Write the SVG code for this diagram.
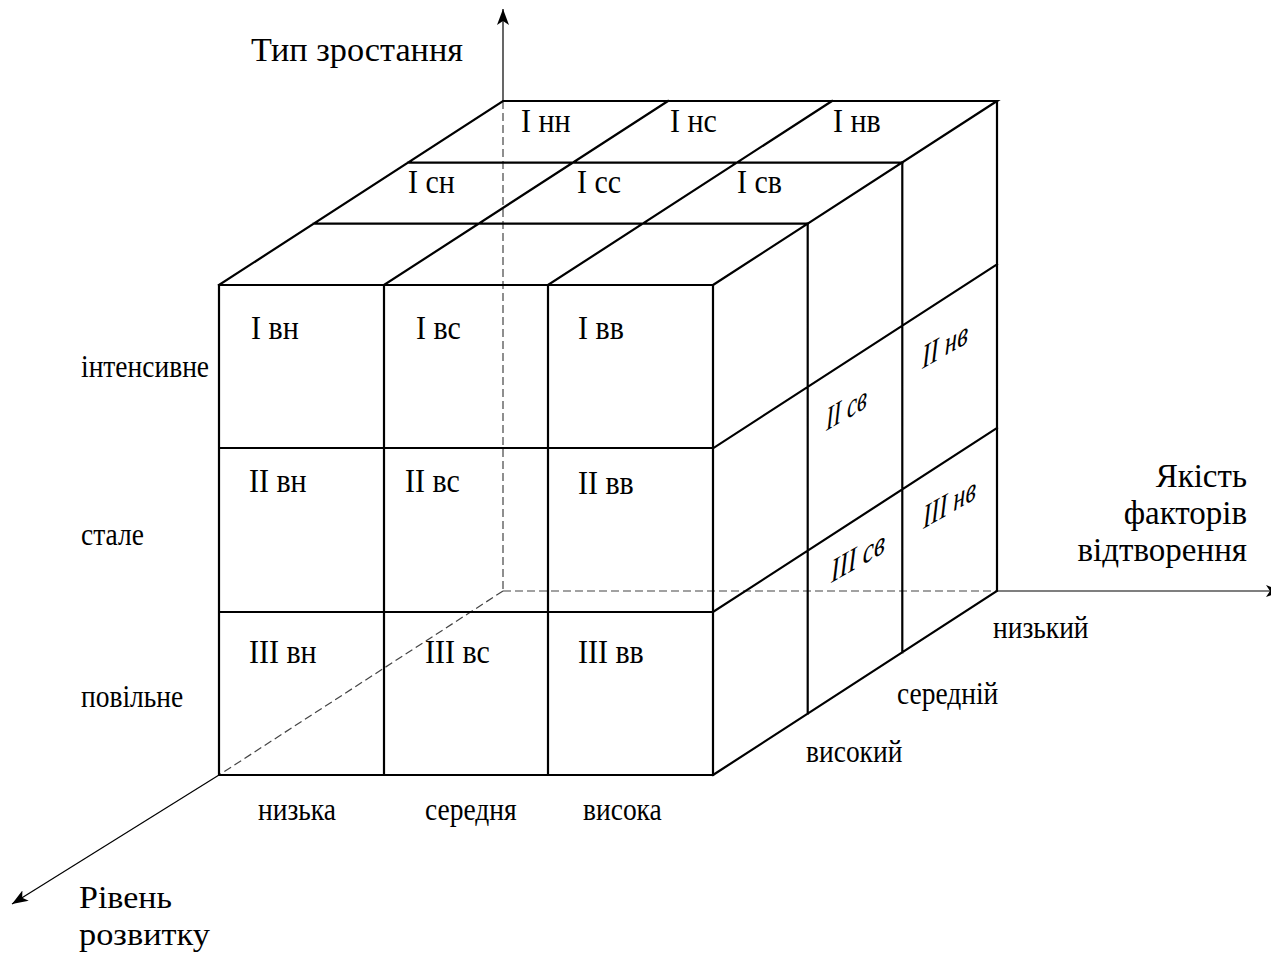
<svg xmlns="http://www.w3.org/2000/svg" width="1271" height="954" viewBox="0 0 1271 954">
<style>
.cube{stroke:#000;stroke-width:2.2;fill:none;stroke-linecap:square}
.hid{stroke:#444;stroke-width:1.2;fill:none;stroke-dasharray:8 4}
.ax{stroke:#000;stroke-width:1.2;fill:none}
.t{font-family:"Liberation Serif","Times New Roman",serif;fill:#000}
.cell{font-size:30px}
.cat{font-size:27.5px}
.ttl{font-size:33px}
.it{font-size:33px;font-style:italic}
</style>
<defs>
<marker id="arr" viewBox="0 0 16 12" refX="16" refY="6" markerWidth="16" markerHeight="12" markerUnits="userSpaceOnUse" orient="auto">
<path d="M0,0 L16,6 L0,12 L4,6 Z" fill="#000"/>
</marker>
</defs>
<rect width="1271" height="954" fill="#fff"/>
<g id="connectors">
<line class="hid" x1="503" y1="101" x2="503" y2="591"/>
<line class="hid" x1="503" y1="591" x2="997" y2="591"/>
<line class="hid" x1="503" y1="591" x2="219" y2="775"/>
<line class="ax" x1="503" y1="101" x2="503" y2="9" marker-end="url(#arr)"/>
<line class="ax" x1="997" y1="591" x2="1282" y2="591" marker-end="url(#arr)"/>
<line class="ax" x1="219" y1="775" x2="12" y2="904" marker-end="url(#arr)"/>
</g>
<g id="cube">
<path class="cube" d="M219,285 H713 V775 H219 Z M384,285 V775 M548,285 V775 M219,448 H713 M219,612 H713"/>
<path class="cube" d="M219,285 L503,101 H997 L713,285 M384,285 L668,101 M548,285 L832,101 M408,162.7 H902.3 M313.7,223.7 H807.7"/>
<path class="cube" d="M997,101 V591 L713,775 M807.7,223.7 V713.7 M902.3,162.3 V652.3 M713,448.3 L997,264.3 M713,612 L997,428"/>
</g>
<g id="cells">
<text class="t cell" transform="translate(521,132) scale(1,1.1)">I нн</text>
<text class="t cell" transform="translate(670,132) scale(1,1.1)">I нс</text>
<text class="t cell" transform="translate(833,132) scale(1,1.1)">I нв</text>
<text class="t cell" transform="translate(408,193) scale(1,1.1)">I сн</text>
<text class="t cell" transform="translate(577,193) scale(1,1.1)">I сс</text>
<text class="t cell" transform="translate(737,193) scale(1,1.1)">I св</text>
<text class="t cell" transform="translate(251,339) scale(1,1.1)">I вн</text>
<text class="t cell" transform="translate(416,339) scale(1,1.1)">I вс</text>
<text class="t cell" transform="translate(578,339) scale(1,1.1)">I вв</text>
<text class="t cell" transform="translate(249,492) scale(1,1.1)">II вн</text>
<text class="t cell" transform="translate(405,492) scale(1,1.1)">II вс</text>
<text class="t cell" transform="translate(578,494) scale(1,1.1)">II вв</text>
<text class="t cell" transform="translate(249,663) scale(1,1.1)">III вн</text>
<text class="t cell" transform="translate(425,663) scale(1,1.1)">III вс</text>
<text class="t cell" transform="translate(578,663) scale(1,1.1)">III вв</text>
<text class="t it" transform="translate(826,431) skewY(-30)" textLength="41" lengthAdjust="spacingAndGlyphs">II св</text>
<text class="t it" transform="translate(922,369) skewY(-30)" textLength="46" lengthAdjust="spacingAndGlyphs">II нв</text>
<text class="t it" transform="translate(831,583) skewY(-30)" textLength="54" lengthAdjust="spacingAndGlyphs">III св</text>
<text class="t it" transform="translate(923,529) skewY(-30)" textLength="53" lengthAdjust="spacingAndGlyphs">III нв</text>
</g>
<g id="labels">
<text class="t cat" transform="translate(81,377) scale(1,1.17)">інтенсивне</text>
<text class="t cat" transform="translate(81,545) scale(1,1.17)">стале</text>
<text class="t cat" transform="translate(81,707) scale(1,1.17)">повільне</text>
<text class="t cat" transform="translate(258,820) scale(1,1.17)">низька</text>
<text class="t cat" transform="translate(425,820) scale(1,1.17)">середня</text>
<text class="t cat" transform="translate(583,820) scale(1,1.17)">висока</text>
<text class="t cat" transform="translate(993,638) scale(1,1.17)">низький</text>
<text class="t cat" transform="translate(897,704) scale(1,1.17)">середній</text>
<text class="t cat" transform="translate(806,762) scale(1,1.17)">високий</text>
</g>
<g id="axis-titles">
<text class="t ttl" x="251" y="61" textLength="212" lengthAdjust="spacingAndGlyphs">Тип зростання</text>
<text class="t ttl" x="1247" y="487" text-anchor="end">Якість</text>
<text class="t ttl" x="1247" y="524" text-anchor="end">факторів</text>
<text class="t ttl" x="1247" y="561" text-anchor="end">відтворення</text>
<text class="t ttl" x="79" y="908" textLength="93" lengthAdjust="spacingAndGlyphs" style="font-size:31px">Рівень</text>
<text class="t ttl" x="79" y="945" textLength="131" lengthAdjust="spacingAndGlyphs" style="font-size:31px">розвитку</text>
</g>
</svg>
